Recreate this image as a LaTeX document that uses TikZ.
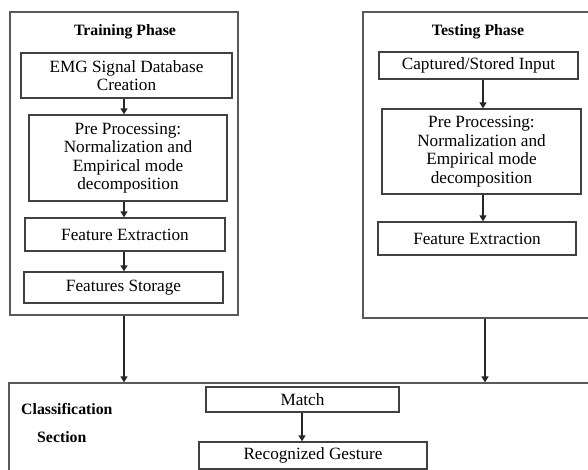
\documentclass[tikz,border=0pt]{standalone}
\usepackage{fontspec}
\setmainfont{Liberation Serif}
\usetikzlibrary{arrows.meta}
\begin{document}
\begin{tikzpicture}[x=1pt,y=1pt,
  box/.style={draw=black!75,line width=1.3pt,inner sep=0pt,align=center,
    font=\fontsize{17.2}{18.5}\selectfont},
  frame/.style={draw=black!65,line width=1.2pt,inner sep=0pt},
  ttl/.style={font=\fontsize{15.8}{18}\selectfont\bfseries,inner sep=0pt},
  arr/.style={draw=black!85,line width=1.4pt,-{Triangle[length=6pt,width=7pt]}}]
\useasboundingbox (0,0) rectangle (588,470);
\clip (0,0) rectangle (588,470);
% frames
\node[frame,minimum width=228,minimum height=303] (train) at (124,306.5) {};
\node[frame,minimum width=247,minimum height=306] (test) at (486.5,305) {};
\node[frame,minimum width=601,minimum height=107] (cls) at (309.5,33.5) {};
% titles
\node[ttl] (ttrain) at (125,438) {Training Phase};
\node[ttl] (ttest) at (478,438) {Testing Phase};
\node[ttl,anchor=west] (tcls) at (21,61) {Classification};
\node[ttl,anchor=west] (tsec) at (37,33) {Section};
% training boxes
\node[box,minimum width=211,minimum height=45] (emg) at (126.5,394.5) {EMG Signal Database\\Creation};
\node[box,minimum width=198,minimum height=86] (pre) at (128,312) {Pre Processing:\\Normalization and\\Empirical mode\\decomposition};
\node[box,minimum width=200,minimum height=33] (fe) at (125,235.5) {Feature Extraction};
\node[box,minimum width=199,minimum height=31] (fs) at (123.5,182.5) {Features Storage};
% testing boxes
\node[box,minimum width=199,minimum height=27] (cap) at (478.5,404.5) {Captured/Stored Input};
\node[box,minimum width=199,minimum height=85] (pre2) at (481.5,318.5) {Pre Processing:\\Normalization and\\Empirical mode\\decomposition};
\node[box,minimum width=198,minimum height=33] (fe2) at (477,231.5) {Feature Extraction};
% classification boxes
\node[box,minimum width=193,minimum height=25] (match) at (302.5,70.5) {Match};
\node[box,minimum width=228,minimum height=27] (rec) at (313,14.5) {Recognized Gesture};
% arrows
\coordinate (ax) at (124,0);
\coordinate (bx) at (483,0);
\coordinate (cx) at (302,0);
\coordinate (dx) at (485,0);
\draw[arr] (emg.south -| ax) -- (pre.north -| ax);
\draw[arr] (pre.south -| ax) -- (fe.north -| ax);
\draw[arr] (fe.south -| ax) -- (fs.north -| ax);
\draw[arr] (cap.south -| bx) -- (pre2.north -| bx);
\draw[arr] (pre2.south -| bx) -- (fe2.north -| bx);
\draw[arr] (train.south) -- (train.south |- cls.north);
\draw[arr] (test.south -| dx) -- (cls.north -| dx);
\draw[arr] (match.south -| cx) -- (rec.north -| cx);
\end{tikzpicture}
\end{document}
